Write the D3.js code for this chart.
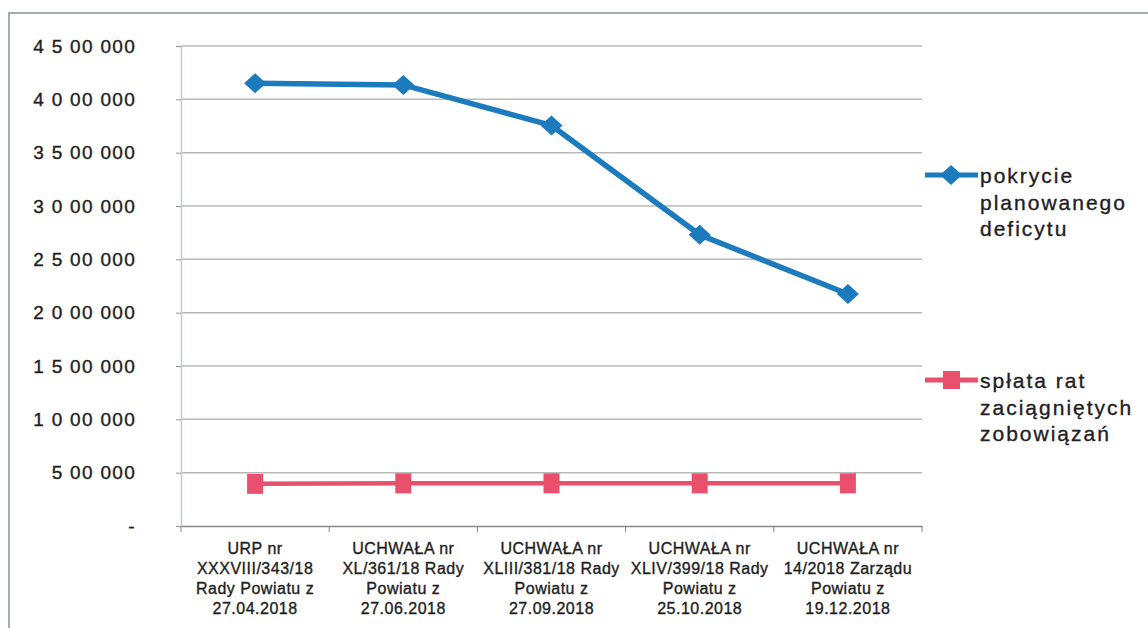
<!DOCTYPE html>
<html><head><meta charset="utf-8">
<script src="https://cdn.jsdelivr.net/npm/d3@7"></script>
<style>
body{margin:0;background:#fff;}
svg{display:block;font-family:"Liberation Sans",Arial,sans-serif;}
</style></head>
<body><svg id="c" width="1148" height="628"></svg>
<script>
const categories = [
  ["URP nr","XXXVIII/343/18","Rady Powiatu z","27.04.2018"],
  ["UCHWAŁA nr","XL/361/18 Rady","Powiatu z","27.06.2018"],
  ["UCHWAŁA nr","XLIII/381/18 Rady","Powiatu z","27.09.2018"],
  ["UCHWAŁA nr","XLIV/399/18 Rady","Powiatu z","25.10.2018"],
  ["UCHWAŁA nr","14/2018 Zarządu","Powiatu z","19.12.2018"]
];
const deficyt = [4150000, 4135000, 3755000, 2730000, 2175000];
const splata = [395000, 400000, 400000, 400000, 400000];
const yTicks = [0,500000,1000000,1500000,2000000,2500000,3000000,3500000,4000000,4500000];
const yTickLabels = ["-","5 00 000","1 0 00 000","1 5 00 000","2 0 00 000","2 5 00 000","3 0 00 000","3 5 00 000","4 0 00 000","4 5 00 000"];
const seriesNames = [["pokrycie","planowanego","deficytu"],["spłata rat","zaciągniętych","zobowiązań"]];

const svg = d3.select("#c");
const blue = "#1b7bbd", red = "#e8506e", ink = "#1e1e24";
// frame
svg.append("path").attr("d","M9,628 V13 H1148").attr("fill","none").attr("stroke","#a3adb3").attr("stroke-width",2);

const x = d3.scaleBand().domain(d3.range(categories.length)).range([181,922]);
const y = d3.scaleLinear().domain([0,4500000]).range([526,46]);

// gridlines
svg.append("g").selectAll("line").data(yTicks.slice(1)).join("line")
  .attr("x1",181).attr("x2",922).attr("y1",d=>y(d)).attr("y2",d=>y(d))
  .attr("stroke","#b8b8b8").attr("stroke-width",1.5);

// y axis
const ya = svg.append("g").attr("transform","translate(181,0)")
  .call(d3.axisLeft(y).tickValues(yTicks).tickSize(5).tickPadding(40).tickFormat((d,i)=>yTickLabels[i]));
ya.select(".domain").attr("stroke","#b8d0e0").attr("stroke-width",1.5);
ya.selectAll(".tick line").attr("stroke","#999");
ya.selectAll("text").attr("font-size",19).attr("fill",ink).attr("letter-spacing","1.3px")
  .attr("stroke",ink).attr("stroke-width",0.35)
  .attr("font-family","Liberation Sans, Arial, sans-serif");

// x axis
const xa = svg.append("g").attr("transform","translate(0,526)")
  .call(d3.axisBottom(x).tickSize(0).tickFormat(""));
xa.select(".domain").attr("stroke","#888").attr("stroke-width",1.5);
svg.append("g").selectAll("line").data(d3.range(categories.length+1)).join("line")
  .attr("x1",d=>181+d*x.step()).attr("x2",d=>181+d*x.step()).attr("y1",526).attr("y2",532)
  .attr("stroke","#888");
const xl = svg.append("g");
categories.forEach((lines,i)=>{
  const t = xl.append("text").attr("text-anchor","middle")
    .attr("font-size",16).attr("fill",ink).attr("letter-spacing","0.5px")
    .attr("stroke",ink).attr("stroke-width",0.35);
  lines.forEach((s,j)=>t.append("tspan").attr("x",x(i)+x.bandwidth()/2).attr("y",554+j*20).text(s));
});

const cx = i => x(i)+x.bandwidth()/2;
const line = d3.line().x((d,i)=>cx(i)).y(d=>y(d));
const diamond = "M0,-10 L11,0 L0,10 L-11,0 Z";
svg.append("path").datum(splata).attr("d",line).attr("fill","none").attr("stroke",red).attr("stroke-width",4.5);
svg.append("g").selectAll("rect").data(splata).join("rect")
  .attr("x",(d,i)=>cx(i)-8).attr("y",d=>y(d)-10).attr("width",16).attr("height",20).attr("fill",red);
svg.append("path").datum(deficyt).attr("d",line).attr("fill","none").attr("stroke",blue).attr("stroke-width",5.5);
svg.append("g").selectAll("path").data(deficyt).join("path")
  .attr("transform",(d,i)=>`translate(${cx(i)},${y(d)})`).attr("d",diamond).attr("fill",blue);

// legend
const leg = [{c:blue, y:175, ty:183, sym:"d"},{c:red, y:380, ty:388, sym:"s"}];
leg.forEach((l,k)=>{
  svg.append("line").attr("x1",925).attr("x2",978).attr("y1",l.y).attr("y2",l.y).attr("stroke",l.c).attr("stroke-width",5);
  if(l.sym==="d") svg.append("path").attr("transform",`translate(951,${l.y})`).attr("d",diamond).attr("fill",l.c);
  else svg.append("rect").attr("x",943).attr("y",l.y-9).attr("width",17).attr("height",18).attr("fill",l.c);
  const t = svg.append("text").attr("font-size",21).attr("fill",ink).attr("letter-spacing","2px")
    .attr("stroke",ink).attr("stroke-width",0.35);
  seriesNames[k].forEach((s,j)=>t.append("tspan").attr("x",980).attr("y",l.ty+j*26.5).text(s));
});
</script></body></html>
